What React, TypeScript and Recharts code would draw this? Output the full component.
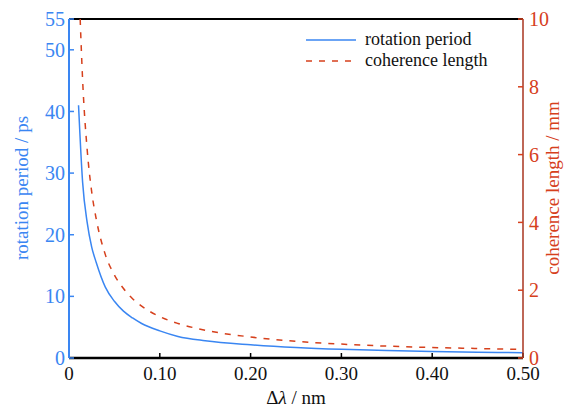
import { LineChart, Line, XAxis, YAxis, ReferenceLine } from 'recharts'

const BLUE = '#3a86f2'
const RED = '#d6401c'

// Δλ (nm) sample points
const periodX = [0.0105, 0.015, 0.02, 0.025, 0.03, 0.04, 0.05, 0.06, 0.07, 0.08, 0.1, 0.12, 0.15, 0.2, 0.25, 0.3, 0.35, 0.4, 0.45, 0.5]
const periodPs = [41, 28.5, 22, 18, 15.5, 11.5, 9.2, 7.6, 6.5, 5.6, 4.4, 3.5, 2.8, 2.15, 1.7, 1.4, 1.2, 1.05, 0.95, 0.86]

const coherenceX = [0.0123, 0.015, 0.02, 0.025, 0.03, 0.04, 0.05, 0.06, 0.07, 0.08, 0.1, 0.12, 0.15, 0.2, 0.25, 0.3, 0.35, 0.4, 0.45, 0.5]
const coherenceMm = [10, 8.2, 6.15, 4.9, 4.1, 3.05, 2.45, 2.05, 1.75, 1.53, 1.22, 1.02, 0.82, 0.62, 0.49, 0.41, 0.35, 0.31, 0.28, 0.25]

const xTicks = [0, 0.1, 0.2, 0.3, 0.4, 0.5]
const leftTicks = [0, 10, 20, 30, 40, 50, 55]
const rightTicks = [0, 2, 4, 6, 8, 10]

const periodData = periodX.map((x, i) => ({ x, v: periodPs[i] }))
const coherenceData = coherenceX.map((x, i) => ({ x, v: coherenceMm[i] }))

const FONT = '"Liberation Serif", "Times New Roman", serif'

export default function App() {
  return (
    <div style={{ position: 'absolute', left: 0, top: 0, width: 574, height: 408, background: '#fff', fontFamily: FONT }}>
      <LineChart width={574} height={408} margin={{ top: 19, right: 0, left: 0, bottom: 0 }}>
        <XAxis
          type="number"
          dataKey="x"
          domain={[0, 0.5]}
          ticks={xTicks}
          allowDataOverflow
          tickFormatter={(v: number) => (v === 0 ? '0' : v.toFixed(2))}
          height={50}
          stroke="#000"
          axisLine={{ stroke: '#000', strokeWidth: 2.5 }}
          tickLine={{ stroke: '#000', strokeWidth: 1.5 }}
          tickSize={-5}
          tickMargin={14}
          tick={{ fill: '#111', fontSize: 19, fontFamily: FONT }}
        />
        <YAxis
          yAxisId="left"
          orientation="left"
          domain={[0, 55]}
          ticks={leftTicks}
          allowDataOverflow
          width={69}
          axisLine={{ stroke: BLUE, strokeWidth: 2 }}
          tickLine={{ stroke: BLUE, strokeWidth: 1.5 }}
          tickSize={-5}
          tickMargin={9}
          tick={{ fill: BLUE, fontSize: 20, fontFamily: FONT }}
        />
        <YAxis
          yAxisId="right"
          orientation="right"
          domain={[0, 10]}
          ticks={rightTicks}
          allowDataOverflow
          width={51}
          axisLine={{ stroke: '#a8341f', strokeWidth: 1.5 }}
          tickLine={{ stroke: RED, strokeWidth: 1.5 }}
          tickSize={-5}
          tickMargin={11}
          tick={{ fill: RED, fontSize: 20, fontFamily: FONT }}
        />
        {/* black frame line along the top */}
        <ReferenceLine yAxisId="left" y={55} stroke="#000" strokeWidth={2} />
        <Line
          yAxisId="left"
          data={periodData}
          dataKey="v"
          stroke={BLUE}
          strokeWidth={1.5}
          dot={false}
          type="monotone"
          isAnimationActive={false}
        />
        <Line
          yAxisId="right"
          data={coherenceData}
          dataKey="v"
          stroke={RED}
          strokeWidth={1.5}
          strokeDasharray="6 7"
          dot={false}
          type="monotone"
          isAnimationActive={false}
        />
      </LineChart>

      {/* axis titles */}
      <div style={{ position: 'absolute', left: 22, top: 188, transform: 'translate(-50%, -50%) rotate(-90deg)', whiteSpace: 'nowrap', color: BLUE, fontSize: 19 }}>
        rotation period / ps
      </div>
      <div style={{ position: 'absolute', left: 553, top: 188, transform: 'translate(-50%, -50%) rotate(-90deg)', whiteSpace: 'nowrap', color: RED, fontSize: 19 }}>
        coherence length / mm
      </div>
      <div style={{ position: 'absolute', left: 296, top: 398, transform: 'translate(-50%, -50%)', whiteSpace: 'nowrap', color: '#111', fontSize: 19 }}>
        Δ<i>λ</i> / nm
      </div>

      {/* legend */}
      <div style={{ position: 'absolute', left: 306, top: 29, fontSize: 18, color: '#111', lineHeight: '21px' }}>
        <div style={{ display: 'flex', alignItems: 'center', gap: 9 }}>
          <svg width={50} height={4}><line x1={0} y1={2} x2={50} y2={2} stroke={BLUE} strokeWidth={1.5} /></svg>
          <span>rotation period</span>
        </div>
        <div style={{ display: 'flex', alignItems: 'center', gap: 9 }}>
          <svg width={50} height={4}><line x1={0} y1={2} x2={50} y2={2} stroke={RED} strokeWidth={1.5} strokeDasharray="6 7" /></svg>
          <span>coherence length</span>
        </div>
      </div>
    </div>
  )
}
